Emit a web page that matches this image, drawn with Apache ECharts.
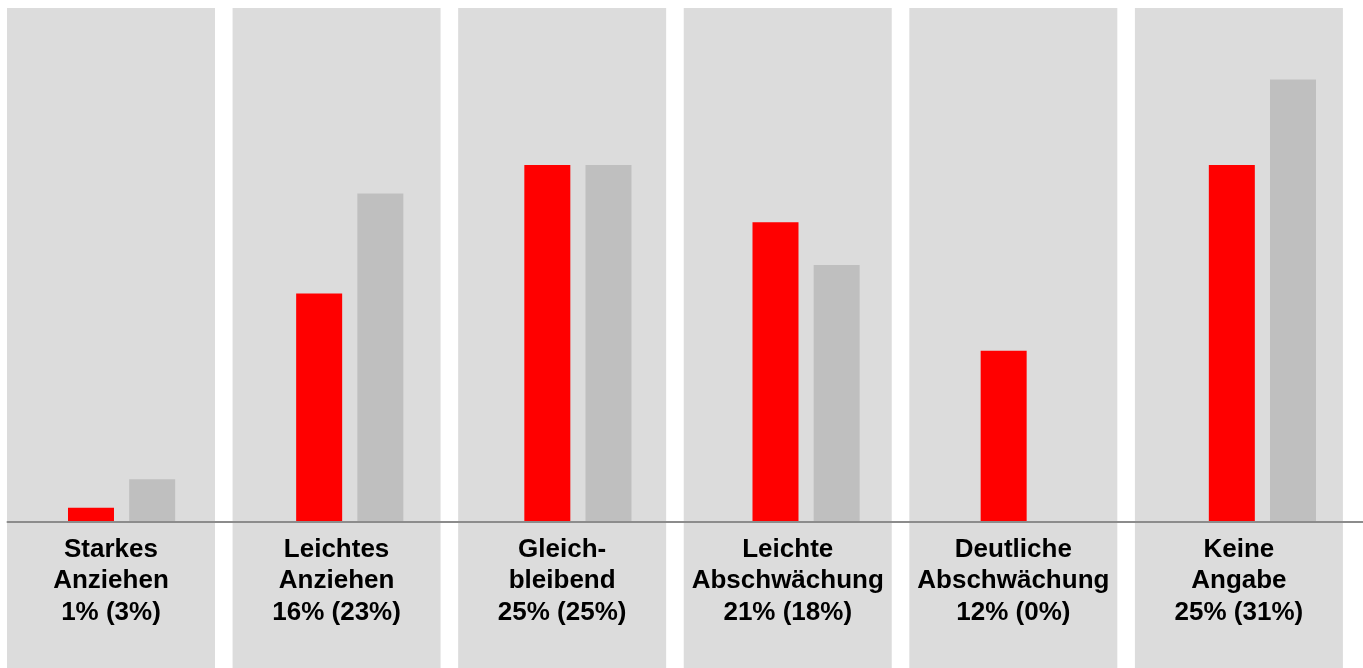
<!DOCTYPE html>
<html>
<head>
<meta charset="utf-8">
<script src="https://cdn.jsdelivr.net/npm/echarts@6/dist/echarts.min.js"></script>
<style>
html,body{margin:0;padding:0;background:#fff;}
#chart{width:1363px;height:668px;}
</style>
</head>
<body>
<div id="chart"></div>
<script>
const CATEGORIES = ["Starkes\nAnziehen", "Leichtes\nAnziehen", "Gleich-\nbleibend", "Leichte\nAbschwächung", "Deutliche\nAbschwächung", "Keine\nAngabe"];
const CURRENT = [1, 16, 25, 21, 12, 25];   // red
const PREVIOUS = [3, 23, 25, 18, 0, 31];   // gray
const Y_MAX = 36;

const panelData = CATEGORIES.map(() => Y_MAX);
const labelText = CATEGORIES.map((c, i) => c + "\n" + CURRENT[i] + "% (" + PREVIOUS[i] + "%)");

const chart = echarts.init(document.getElementById('chart'), null, {renderer: 'canvas'});
chart.setOption({
  backgroundColor: '#ffffff',
  animation: false,
  grid: [
    {left: -1.8, width: 1353.5, top: 8, bottom: 0, containLabel: false, outerBoundsMode: 'none'},
    {left: 7.5, width: 1369, top: 8, bottom: 146, containLabel: false, outerBoundsMode: 'none'}
  ],
  xAxis: [
    {
      type: 'category', gridIndex: 0, data: labelText, offset: -146, z: 3,
      axisLine: {show: false}, axisTick: {show: false}, splitLine: {show: false},
      axisLabel: {
        interval: 0, margin: 12, color: '#000000',
        fontFamily: 'Liberation Sans, Arial, sans-serif', fontWeight: 'bold',
        fontSize: 26, lineHeight: 31.5, align: 'center'
      }
    },
    {
      type: 'category', gridIndex: 1, data: CATEGORIES, z: 3,
      axisLine: {show: true, lineStyle: {color: '#8C8C8C', width: 2}},
      axisTick: {show: false}, axisLabel: {show: false}, splitLine: {show: false}
    }
  ],
  yAxis: [
    {type: 'value', gridIndex: 0, min: 0, max: Y_MAX, show: false},
    {type: 'value', gridIndex: 1, min: 0, max: Y_MAX, show: false}
  ],
  series: [
    {
      name: 'panel', type: 'bar', xAxisIndex: 0, yAxisIndex: 0, data: panelData,
      barWidth: 208, itemStyle: {color: '#DCDCDC'}, z: 1, silent: true
    },
    {
      name: 'aktuell', type: 'bar', xAxisIndex: 1, yAxisIndex: 1, data: CURRENT,
      barWidth: 46, barGap: '33%', itemStyle: {color: '#FF0000'}, z: 2
    },
    {
      name: 'vorher', type: 'bar', xAxisIndex: 1, yAxisIndex: 1, data: PREVIOUS,
      barWidth: 46, barGap: '33%', itemStyle: {color: '#BFBFBF'}, z: 2
    }
  ]
});
</script>
</body>
</html>
